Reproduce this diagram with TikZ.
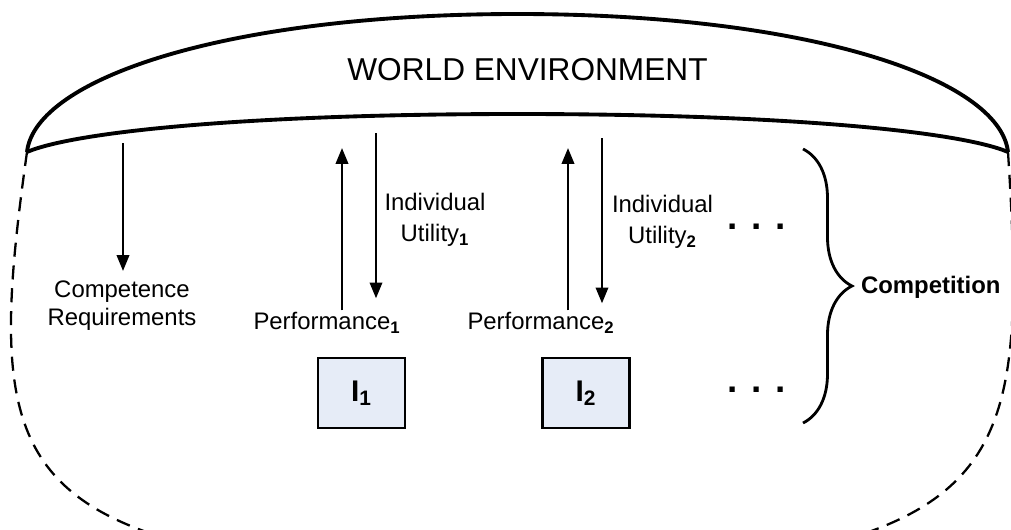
\documentclass[tikz,border=0pt]{standalone}
\usepackage{fontspec}
\setmainfont{Liberation Sans}
\usetikzlibrary{arrows.meta, calc, decorations.pathreplacing}
\definecolor{agentblue}{HTML}{E6ECF7}

\begin{document}
\begin{tikzpicture}[
    flow/.style={-{Triangle[length=9pt, width=7pt]}, line width=1.4pt},
    label/.style={font=\fontsize{13.6}{16}\selectfont, align=center, inner sep=1pt},
    agent/.style={draw, line width=1.4pt, fill=agentblue, minimum width=1.74cm,
        minimum height=1.4cm, font=\fontsize{17}{20}\selectfont\bfseries},
    more/.style={font=\fontsize{21}{24}\selectfont\bfseries, inner sep=0pt},
    outline/.style={line width=1.3pt, dash pattern=on 8pt off 5pt}
]

    \useasboundingbox (0, 0) rectangle (20.22, 10.58);

    % world environment dome
    \coordinate (wl) at (0.54, 7.54);
    \coordinate (wr) at (20.16, 7.54);
    \draw[line width=2.2pt] (wl) .. controls (0.7, 9.0) and (4.5, 10.3) .. (10.35, 10.3)
        .. controls (16.2, 10.3) and (20.0, 9.0) .. (wr);
    \draw[line width=2.2pt] (wl) .. controls (1.5, 7.95) and (5.0, 8.3) .. (10.35, 8.3)
        .. controls (15.7, 8.3) and (19.2, 7.95) .. (wr);
    \node[font=\fontsize{18}{22}\selectfont] (world) at (10.55, 9.18) {WORLD ENVIRONMENT};

    \draw[outline] (wl) .. controls (-0.1, 3.0) and (0.0, 1.0) .. (2.9, -0.05);
    \draw[outline] (wr) .. controls (20.45, 3.0) and (20.3, 1.0) .. (17.4, -0.05);

    % texts
    \node[label] (comp) at (2.44, 4.46) {Competence\\Requirements};
    \node[label] (perf1) at (6.54, 4.12) {Performance\textsubscript{\textbf{1}}};
    \node[label] (perf2) at (10.82, 4.12) {Performance\textsubscript{\textbf{2}}};
    \node[label] (util1) at (8.7, 6.18) {Individual\\[2pt]Utility\textsubscript{\textbf{1}}};
    \node[label] (util2) at (13.25, 6.14) {Individual\\[2pt]Utility\textsubscript{\textbf{2}}};

    \node[agent] (i1) at (7.23, 2.72) {I\textsubscript{1}};
    \node[agent] (i2) at (11.72, 2.72) {I\textsubscript{2}};

    \node[more] (more1) at (15.14, 6.04) {. . .};
    \node[more] (more2) at (15.14, 2.78) {. . .};

    % arrows
    \coordinate (c0) at (2.46, 7.72);
    \coordinate (p1) at (6.84, 7.62);
    \coordinate (u1) at (7.52, 7.92);
    \coordinate (p2) at (11.36, 7.62);
    \coordinate (u2) at (12.04, 7.82);
    \draw[flow] (c0) -- ($(comp.north -| c0) + (0, 0.16)$);
    \draw[flow] (perf1.north -| p1) -- (p1);
    \draw[flow] (u1) -- ($(perf1.north -| u1) + (0, 0.24)$);
    \draw[flow] (perf2.north -| p2) -- (p2);
    \draw[flow] (u2) -- ($(perf2.north -| u2) + (0, 0.14)$);

    % competition brace
    \draw[line width=1.6pt, decorate, decoration={brace, amplitude=0.98cm, aspect=0.5}]
        (16.06, 7.6) -- (16.06, 2.12);
    \node[label, font=\fontsize{13.6}{16}\selectfont\bfseries, anchor=west] (compet)
        at (17.18, 4.84) {Competition};

\end{tikzpicture}
\end{document}
